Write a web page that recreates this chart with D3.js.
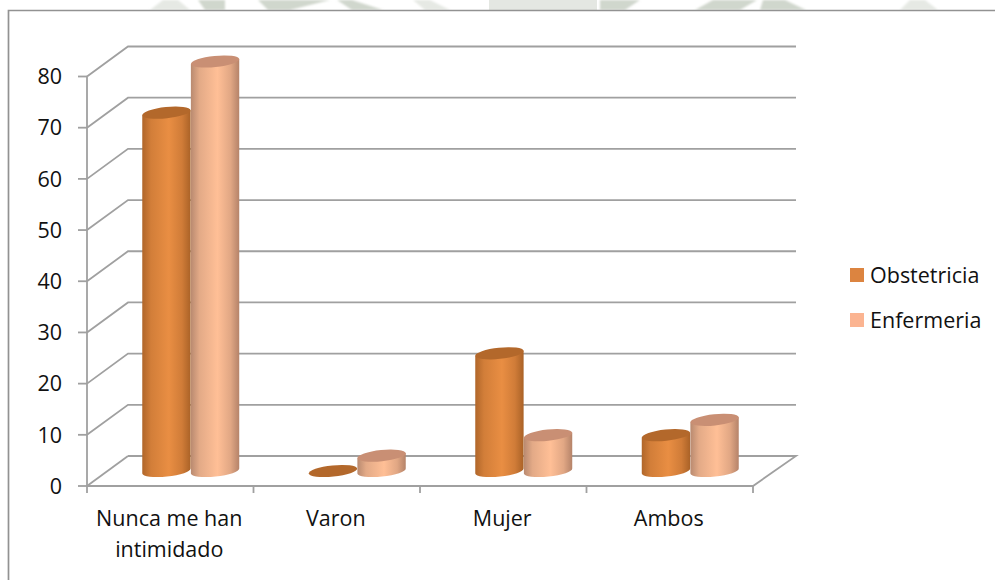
<!DOCTYPE html>
<html><head><meta charset="utf-8">
<script src="https://cdn.jsdelivr.net/npm/d3@7/dist/d3.min.js"></script>
<style>html,body{margin:0;padding:0;background:#fff;overflow:hidden}svg{display:block}text{font-family:"Open Sans",sans-serif;fill:#111}</style>
</head><body><svg id="c" width="995" height="580"></svg>
<script>
const categories=["Nunca me han intimidado","Varon","Mujer","Ambos"];
const catLines=[["Nunca me han","intimidado"],["Varon"],["Mujer"],["Ambos"]];
const seriesNames=["Obstetricia","Enfermeria"];
const obstetricia=[70,0,23,7];
const enfermeria=[80,3,7,10];
const yTicks=[0,10,20,30,40,50,60,70,80];

const svg=d3.select("#c");
const frontLeft=87, frontRight=753, y0=486, y80=76.5, depthX=41, depthY=30;
const y=d3.scaleLinear().domain([0,80]).range([y0,y80]);
const x=d3.scaleBand().domain(categories).range([frontLeft,frontRight]);
const grid="#a0a0a0";
const fs=21.5;

// watermark remnants above the frame
const wmBlur=svg.append("defs").append("filter").attr("id","wb");
wmBlur.append("feGaussianBlur").attr("stdDeviation",0.8);
const wm=svg.append("g").attr("filter","url(#wb)");
[[[198,0],[225,0],[225,10],[205,10]],[[258,0],[330,0],[290,10],[268,10]],
 [[337,0],[352,0],[383,10],[352,10]],[[600,0],[640,0],[625,10],[600,10]],
 [[713,0],[757,0],[740,10],[695,10]],[[763,0],[785,0],[806,10],[760,10]]]
 .forEach(p=>wm.append("polygon").attr("points",p.join(" ")).attr("fill","#d0d7cd"));
[[[163,0],[178,0],[190,10],[150,10]],[[413,0],[430,0],[450,10],[425,10]],[[900,10],[910,0],[925,0],[938,10]]]
 .forEach(p=>wm.append("polygon").attr("points",p.join(" ")).attr("fill","#e6e9e4"));
svg.append("rect").attr("x",489).attr("y",0).attr("width",108).attr("height",10).attr("fill","#e4e7e2");

// frame
svg.append("path").attr("d","M995,10.5H8.5V580").attr("fill","none").attr("stroke","#929292").attr("stroke-width",1.7);

// walls
const g=svg.append("g").attr("fill","none").attr("stroke",grid).attr("stroke-width",1.8);
yTicks.forEach(t=>{
  const py=y(t);
  g.append("path").attr("d",`M${frontLeft},${py}L${frontLeft+depthX},${py-depthY}`+(t===0?"":`H${frontRight+depthX+2}`));
  g.append("line").attr("x1",frontLeft-9).attr("x2",frontLeft).attr("y1",py).attr("y2",py);
  svg.append("text").attr("x",frontLeft-25).attr("y",py).attr("dy","0.36em").attr("text-anchor","end").attr("font-size",fs).text(t);
});
g.append("line").attr("x1",frontLeft).attr("x2",frontLeft).attr("y1",y(80)).attr("y2",y0+7);
g.append("path").attr("d",`M${frontLeft+depthX},${y0-depthY}H${frontRight+depthX+2}L${frontRight},${y0}H${frontLeft}`);
x.domain().forEach(c=>{
  const px=x(c)+x.bandwidth();
  g.append("line").attr("x1",px).attr("x2",px).attr("y1",y0).attr("y2",y0+7);
});

// gradients
const defs=svg.append("defs");
function grad(id,edgeL,mid,edgeR){
  const lg=defs.append("linearGradient").attr("id",id).attr("x1",0).attr("x2",1).attr("y1",0).attr("y2",0);
  [[0,edgeL],[0.18,d3.interpolateRgb(edgeL,mid)(0.6)],[0.55,mid],[0.82,d3.interpolateRgb(edgeR,mid)(0.6)],[1,edgeR]]
    .forEach(s=>lg.append("stop").attr("offset",s[0]).attr("stop-color",s[1]));
}
grad("g0","#b0662a","#e98e43","#aa6227");
grad("g1","#b98a70","#ffbf96","#b58369");
const topC=["#b3682b","#c98f74"];
const rx=x.bandwidth()*0.146, ry=5.6, rot=-6, cos=Math.cos(rot*Math.PI/180), sin=Math.sin(rot*Math.PI/180);
const ell=(cx,cy)=>({lx:cx-rx*cos,ly:cy-rx*sin,rx:cx+rx*cos,ry:cy+rx*sin});
[obstetricia,enfermeria].forEach((vals,s)=>{
  vals.forEach((v,i)=>{
    const cx=x(categories[i])+x.bandwidth()/2+depthX/2+(s===0?-1:1)*rx;
    const base=y(0)-depthY/2, top=y(v)-depthY/2;
    const b=ell(cx,base), t=ell(cx,top);
    if(v>0) svg.append("path").attr("fill",`url(#g${s})`)
      .attr("d",`M${t.lx},${t.ly}L${t.rx},${t.ry}L${b.rx},${b.ry}A${rx},${ry} ${rot} 0 1 ${b.lx},${b.ly}Z`);
    svg.append("ellipse").attr("cx",cx).attr("cy",top).attr("rx",rx).attr("ry",ry).attr("fill",topC[s])
      .attr("transform",`rotate(${rot} ${cx} ${top})`);
  });
});

// category labels
categories.forEach((c,i)=>{
  const cx=x(c)+x.bandwidth()/2-1;
  catLines[i].forEach((l,k)=>svg.append("text").attr("x",cx).attr("y",526+k*31).attr("text-anchor","middle").attr("font-size",fs).text(l));
});

// legend
const legC=["#dc8440","#fbb491"];
seriesNames.forEach((n,i)=>{
  const ly=268+i*45;
  svg.append("rect").attr("x",850).attr("y",ly).attr("width",14).attr("height",14).attr("fill",legC[i]);
  svg.append("text").attr("x",870).attr("y",ly+7).attr("dy","0.36em").attr("font-size",fs).text(n);
});
</script></body></html>
